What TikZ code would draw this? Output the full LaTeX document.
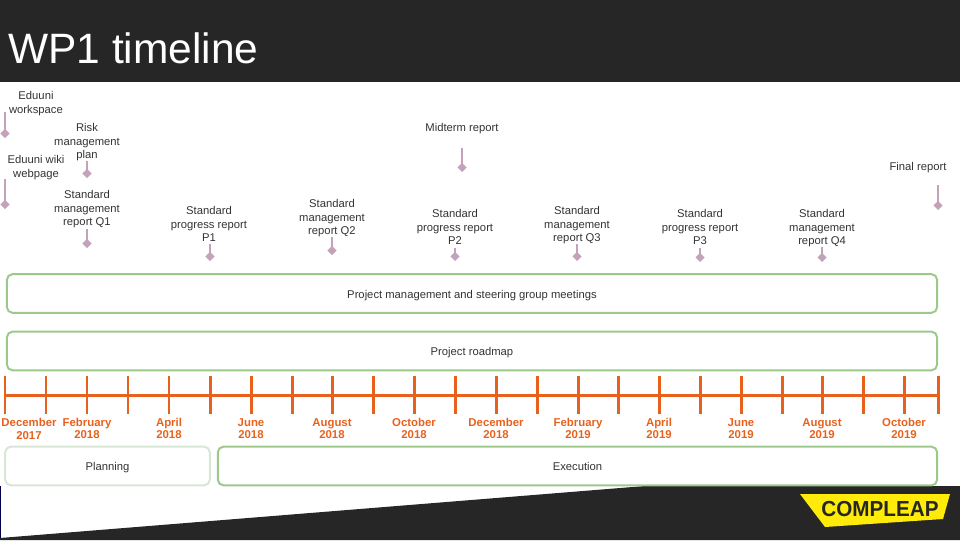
\documentclass[tikz,border=0pt]{standalone}
\usepackage{fontspec}
\setmainfont{Liberation Sans}
\usetikzlibrary{arrows.meta}
\definecolor{darkband}{HTML}{262626}
\definecolor{reportpink}{HTML}{C3A2BA}
\definecolor{axisorange}{HTML}{E8611C}
\definecolor{phasegreen}{HTML}{9CC98A}
\definecolor{palegreen}{HTML}{D8E6D6}
\definecolor{logoyellow}{HTML}{FFEB0A}
\tikzset{
  report/.style={anchor=north,align=center,inner sep=0pt,font=\fontsize{8}{9.4}\selectfont,text=black!80},
  month/.style={anchor=south,align=center,inner sep=0pt,font=\fontsize{8.1}{8.6}\selectfont\bfseries,text=axisorange},
  phase/.style={draw=phasegreen,line width=1.4pt,rounded corners=4pt,minimum height=27.5pt,inner sep=0pt,text height=9pt,text depth=2pt,font=\fontsize{8}{9.4}\selectfont,text=black!80},
  deliver/.style={draw=reportpink,line width=1.3pt,-{Diamond[length=6.5pt,width=6.5pt]}},
  tick/.style={draw=axisorange,line width=2.13pt}
}
\begin{document}
\begin{tikzpicture}[x=0.025cm,y=-0.025cm]
\useasboundingbox (0,0) rectangle (960,540);
\fill[darkband] (0,0) rectangle (960,82);
\fill[darkband] (0,540) -- (0,538) -- (645,486) -- (960,486) -- (960,540) -- cycle;
\fill[blue!30!black] (0,486) rectangle (1,538);
\node[anchor=west,inner sep=0pt,text=white,font=\fontsize{30.2}{32}\selectfont] (title) at (8,48) {WP1 timeline};
% reports
\node[report] (workspace) at (36,91.5) {Eduuni\\workspace};
\node[report] (risk) at (87,123.5) {Risk\\management\\plan};
\node[report] (wiki) at (36,155.5) {Eduuni wiki\\webpage};
\node[report] (q1) at (87,190.5) {Standard\\management\\report Q1};
\node[report] (p1) at (209,206.5) {Standard\\progress report\\P1};
\node[report] (q2) at (332,199.5) {Standard\\management\\report Q2};
\node[report] (p2) at (455,209.5) {Standard\\progress report\\P2};
\node[report] (q3) at (577,206.5) {Standard\\management\\report Q3};
\node[report] (p3) at (700,209.5) {Standard\\progress report\\P3};
\node[report] (q4) at (822,209.5) {Standard\\management\\report Q4};
\node[report] (midterm) at (462,123.5) {Midterm report};
\node[report] (final) at (918,162) {Final report};
% arrows
\coordinate (workspaceout) at (5,112);
\coordinate (workspacetip) at (5,138);
\coordinate (wikiout) at (5,179);
\coordinate (wikitip) at (5,209);
\coordinate (risktip) at (87,178);
\coordinate (q1tip) at (87,248);
\coordinate (p1tip) at (210,261);
\coordinate (q2tip) at (332,255);
\coordinate (p2tip) at (455,261);
\coordinate (q3tip) at (577,261);
\coordinate (p3tip) at (700,262);
\coordinate (q4tip) at (822,262);
\coordinate (midtermtip) at (462,172);
\coordinate (finalout) at (938,185);
\coordinate (finaltip) at (938,210);
\draw[deliver] (workspaceout) -- (workspacetip);
\draw[deliver] (wikiout) -- (wikitip);
\draw[deliver] (risk.south) -- (risktip);
\draw[deliver] (q1.south) ++(0,1.5) -- (q1tip);
\draw[deliver] (p1.south) ++(1,2) -- (p1tip);
\draw[deliver] (q2.south) -- (q2tip);
\draw[deliver] (p2.south) ++(0,3) -- (p2tip);
\draw[deliver] (q3.south) -- (q3tip);
\draw[deliver] (p3.south) ++(0,3) -- (p3tip);
\draw[deliver] (q4.south) ++(0,0.5) -- (q4tip);
\draw[deliver] (midterm.south) ++(0,13) -- (midtermtip);
\draw[deliver] (finalout) -- (finaltip);
% phases
\node[phase,minimum width=661.5pt] (meetings) at (472,293.5) {Project management and steering group meetings};
\node[phase,minimum width=661.5pt] (roadmap) at (472,351) {Project roadmap};
\node[phase,draw=palegreen,minimum width=145.5pt] (planning) at (107.5,466) {Planning};
\node[phase,minimum width=511.5pt] (execution) at (577.5,466) {Execution};
% axis
\draw[tick] (5,395) -- (938,395);
\draw[tick] (5,376) -- (5,414);
\draw[tick] (46,376) -- (46,414);
\draw[tick] (87,376) -- (87,414);
\draw[tick] (128,376) -- (128,414);
\draw[tick] (169,376) -- (169,414);
\draw[tick] (210,376) -- (210,414);
\draw[tick] (251,376) -- (251,414);
\draw[tick] (292,376) -- (292,414);
\draw[tick] (332,376) -- (332,414);
\draw[tick] (373,376) -- (373,414);
\draw[tick] (414,376) -- (414,414);
\draw[tick] (455,376) -- (455,414);
\draw[tick] (496,376) -- (496,414);
\draw[tick] (537,376) -- (537,414);
\draw[tick] (578,376) -- (578,414);
\draw[tick] (618,376) -- (618,414);
\draw[tick] (659,376) -- (659,414);
\draw[tick] (700,376) -- (700,414);
\draw[tick] (741,376) -- (741,414);
\draw[tick] (782,376) -- (782,414);
\draw[tick] (822,376) -- (822,414);
\draw[tick] (863,376) -- (863,414);
\draw[tick] (904,376) -- (904,414);
\draw[tick] (938,376) -- (938,414);
% months
\node[month] (dec17) at (29,440) {December\\[1pt]2017};
\node[month] (feb18) at (87,438.5) {February\\2018};
\node[month] (apr18) at (169,438.5) {April\\2018};
\node[month] (jun18) at (251,438.5) {June\\2018};
\node[month] (aug18) at (332,438.5) {August\\2018};
\node[month] (oct18) at (414,438.5) {October\\2018};
\node[month] (dec18) at (496,438.5) {December\\2018};
\node[month] (feb19) at (578,438.5) {February\\2019};
\node[month] (apr19) at (659,438.5) {April\\2019};
\node[month] (jun19) at (741,438.5) {June\\2019};
\node[month] (aug19) at (822,438.5) {August\\2019};
\node[month] (oct19) at (904,438.5) {October\\2019};
% logo
\fill[logoyellow] (800,494) -- (950,494) -- (943,519) -- (825,527) -- cycle;
\node[inner sep=0pt,text=darkband,font=\fontsize{15}{15}\selectfont\bfseries] (logo) at (880,509) {\scalebox{0.98}[1.03]{COMPLEAP}};
\end{tikzpicture}
\end{document}
